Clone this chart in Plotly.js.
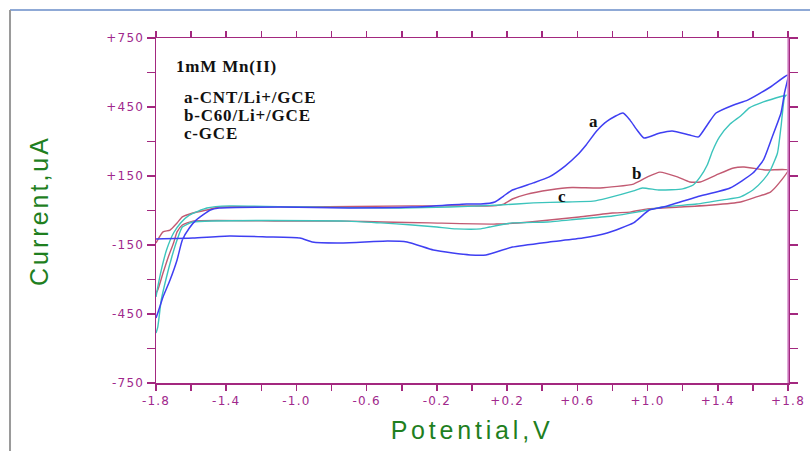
<!DOCTYPE html>
<html>
<head>
<meta charset="utf-8">
<script src="https://cdn.plot.ly/plotly-3.0.1.min.js"></script>
<style>
  html, body { margin: 0; padding: 0; background: #ffffff; }
  #chart { width: 810px; height: 451px; }
  .xtitle { letter-spacing: 3.8px; }
  .ytitle { letter-spacing: 3.0px; }
  .xtick text, .ytick text { letter-spacing: 1.2px; }
  .annotation-text { letter-spacing: 0.8px; }
</style>
</head>
<body>
<div id="chart"></div>
<script>
// Curve a: CNT/Li+/GCE (blue)
const aV = [-1.80,-1.59,-1.38,-1.17,-0.98,-0.91,-0.74,-0.48,-0.37,-0.22,-0.11,-0.01,0.08,0.23,0.44,0.63,0.77,0.92,1.01,1.09,1.28,1.47,1.60,1.66,1.71,1.76,1.78,1.80,
            1.70,1.57,1.49,1.39,1.34,1.29,1.24,1.14,1.07,0.98,0.94,0.90,0.86,0.77,0.71,0.65,0.60,0.53,0.44,0.35,0.23,0.18,0.13,0.05,-0.03,-0.34,-0.70,-1.09,-1.44,-1.49,-1.57,-1.61,-1.65,-1.68,-1.72,-1.76,-1.79,-1.80];
const aI = [-124,-120,-111,-115,-120,-137,-141,-133,-137,-172,-185,-193,-193,-159,-137,-120,-98,-54,2,15,59,98,163,220,320,424,511,589,
            537,480,459,424,372,320,328,346,337,315,350,393,424,389,346,285,241,193,146,120,89,63,37,28,28,15,11,15,11,2,-41,-76,-128,-215,-302,-376,-446,-467];

// Curve b: C60/Li+/GCE (red)
const bV = [-1.80,-1.76,-1.72,-1.68,-1.65,-1.59,-1.51,-1.44,-0.98,-0.34,-0.01,0.12,0.18,0.23,0.31,0.44,0.57,0.73,0.92,1.00,1.07,1.17,1.24,1.30,1.39,1.49,1.55,1.68,1.80,
            1.75,1.70,1.62,1.53,1.37,1.18,1.00,0.90,0.80,0.61,0.33,0.14,-0.24,-0.51,-0.71,-1.09,-1.59,-1.65,-1.68,-1.70,-1.73,-1.76,-1.79,-1.80];
const bI = [-141,-93,-85,-54,-28,-11,2,15,15,20,20,20,28,50,70,89,100,98,115,146,167,146,124,124,154,185,189,176,176,
            120,80,59,37,24,15,7,-7,-11,-28,-50,-59,-54,-50,-46,-46,-46,-63,-93,-141,-202,-272,-346,-359];

// Curve c: GCE (cyan)
const cV = [-1.80,-1.79,-1.77,-1.74,-1.70,-1.66,-1.61,-1.51,-1.38,-0.98,-0.41,-0.13,0.16,0.35,0.54,0.69,0.77,0.92,0.97,1.07,1.20,1.26,1.30,1.34,1.37,1.41,1.47,1.53,1.58,1.66,1.77,1.79,
            1.78,1.76,1.74,1.70,1.66,1.60,1.53,1.43,1.28,1.09,0.94,0.80,0.61,0.43,0.23,0.10,0.05,-0.09,-0.20,-0.34,-0.52,-0.71,-1.59,-1.65,-1.68,-1.71,-1.74,-1.77,-1.79,-1.80];
const cI = [-376,-333,-259,-172,-98,-54,-20,11,20,15,11,15,24,33,37,41,54,85,98,89,94,111,146,198,259,320,376,411,446,472,498,502,
            493,363,250,176,133,89,59,46,28,15,-7,-24,-37,-50,-54,-72,-80,-80,-72,-63,-54,-46,-50,-72,-128,-202,-289,-389,-507,-533];

// Axis ticks
const xTickVals = [-1.8,-1.4,-1.0,-0.6,-0.2,0.2,0.6,1.0,1.4,1.8];
const xTickText = ['-1.8','-1.4','-1.0','-0.6','-0.2','+0.2','+0.6','+1.0','+1.4','+1.8'];
const yTickVals = [-750,-450,-150,150,450,750];
const yTickText = ['-750','-450','-150','+150','+450','+750'];

// Text labels
const legendTitle = '1mM Mn(II)';
const legendLines = ['a-CNT/Li+/GCE','b-C60/Li+/GCE','c-GCE'];
const curveLabels = ['a','b','c'];
const curveLabelV = [0.69, 0.94, 0.51];
const curveLabelI = [385, 163, 59];

const axisColor = '#a3287f';
const tickFontColor = '#a0288c';
const titleColor = '#1f7f1f';

const traces = [
  {x: bV, y: bI, mode: 'lines', line: {color: '#c25a72', width: 1.4, shape: 'spline', smoothing: 0.5}, hoverinfo: 'skip'},
  {x: cV, y: cI, mode: 'lines', line: {color: '#3cc4bc', width: 1.4, shape: 'spline', smoothing: 0.5}, hoverinfo: 'skip'},
  {x: aV, y: aI, mode: 'lines', line: {color: '#3f3ff2', width: 1.5, shape: 'spline', smoothing: 0.5}, hoverinfo: 'skip'}
];

const annotations = [];
annotations.push({xref: 'x', yref: 'y', x: -1.695, y: 628, xanchor: 'left', yanchor: 'middle', showarrow: false,
  text: legendTitle, font: {family: 'Liberation Serif, Times New Roman, serif', size: 17, color: '#111111', weight: 'bold'}});
const legendY = [491, 411, 333];
legendLines.forEach((t, i) => {
  annotations.push({xref: 'x', yref: 'y', x: -1.652, y: legendY[i], xanchor: 'left', yanchor: 'middle', showarrow: false,
    text: t, font: {family: 'Liberation Serif, Times New Roman, serif', size: 17, color: '#111111', weight: 'bold'}});
});
curveLabels.forEach((t, i) => {
  annotations.push({xref: 'x', yref: 'y', x: curveLabelV[i], y: curveLabelI[i], xanchor: 'center', yanchor: 'middle', showarrow: false,
    text: t, font: {family: 'Liberation Serif, Times New Roman, serif', size: 17, color: '#111111', weight: 'bold'}});
});

const layout = {
  width: 810, height: 451,
  margin: {l: 156, r: 22, t: 38, b: 68},
  paper_bgcolor: '#ffffff', plot_bgcolor: '#ffffff',
  showlegend: false,
  xaxis: {
    range: [-1.8, 1.8], tickmode: 'array', tickvals: xTickVals, ticktext: xTickText,
    ticks: 'outside', ticklen: 6, tickwidth: 1.5, tickcolor: axisColor,
    minor: {tickmode: 'linear', tick0: -1.8, dtick: 0.2, ticks: 'outside', ticklen: 6, tickwidth: 1.5, tickcolor: axisColor},
    showline: true, linecolor: axisColor, linewidth: 1.5, mirror: 'ticks',
    showgrid: false, zeroline: false,
    tickfont: {family: 'DejaVu Sans, sans-serif', size: 12, color: tickFontColor},
    title: {text: 'Potential,V', font: {family: 'Liberation Sans, Arial, sans-serif', size: 25, color: titleColor}, standoff: 14}
  },
  yaxis: {
    range: [-750, 750], tickmode: 'array', tickvals: yTickVals, ticktext: yTickText,
    ticks: 'outside', ticklen: 8, tickwidth: 1.5, tickcolor: axisColor,
    minor: {tickmode: 'linear', tick0: -750, dtick: 150, ticks: 'outside', ticklen: 8, tickwidth: 1.5, tickcolor: axisColor},
    showline: true, linecolor: axisColor, linewidth: 1.5, mirror: 'ticks',
    showgrid: false, zeroline: false,
    tickfont: {family: 'DejaVu Sans, sans-serif', size: 12, color: tickFontColor},
    title: {text: 'Current,uA', font: {family: 'Liberation Sans, Arial, sans-serif', size: 25, color: titleColor}, standoff: 50}
  },
  annotations: annotations,
  shapes: [
    {type: 'line', xref: 'paper', yref: 'paper', x0: 1, x1: 1, y0: 0, y1: 1, line: {color: '#d68ccb', width: 1.5}},
    {type: 'line', xref: 'paper', yref: 'paper', x0: -0.231, x1: 1.04, y0: 1.081, y1: 1.081, line: {color: '#8fa9d6', width: 2}},
    {type: 'line', xref: 'paper', yref: 'paper', x0: -0.231, x1: -0.231, y0: 1.081, y1: -0.2, line: {color: '#9a9a9a', width: 2}}
  ]
};

Plotly.newPlot('chart', traces, layout, {staticPlot: true, displayModeBar: false});
</script>
</body>
</html>
